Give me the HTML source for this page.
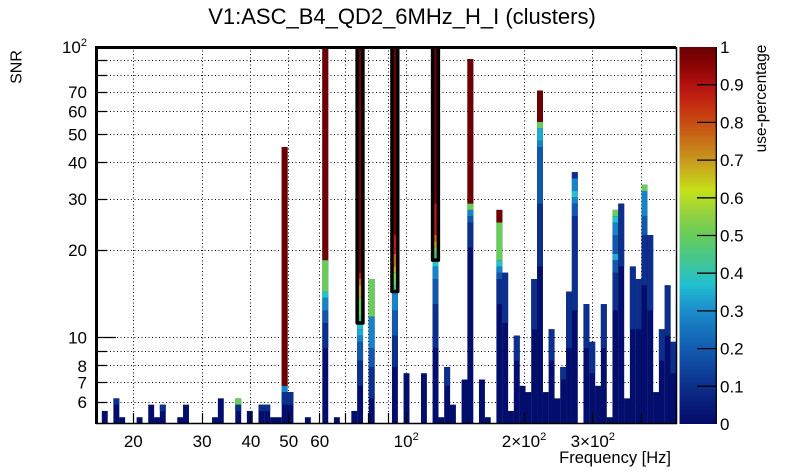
<!DOCTYPE html>
<html><head><meta charset="utf-8">
<style>
html,body{margin:0;padding:0;background:#fff;}
svg{display:block;}
text{font-family:"Liberation Sans",Arial,sans-serif;fill:#000;}
.a{fill:#020d6c}.b{fill:#0c2f8c}.c{fill:#1158ad}.d{fill:#1784c6}.e{fill:#20aacf}.f{fill:#28c2c4}
.g{fill:#3cc49a}.h{fill:#6acd5a}.i{fill:#a6d83a}.j{fill:#c8a020}.k{fill:#c8641a}.l{fill:#bc1a12}.m{fill:#6e0000}
</style></head>
<body>
<svg width="805" height="472" viewBox="0 0 805 472" xmlns="http://www.w3.org/2000/svg">
<defs>
<linearGradient id="pal" x1="0" y1="0" x2="0" y2="1">
<stop offset="0" stop-color="#6a0000"/>
<stop offset="0.05" stop-color="#8a0404"/>
<stop offset="0.1" stop-color="#b21010"/>
<stop offset="0.15" stop-color="#c42a10"/>
<stop offset="0.22" stop-color="#c85a14"/>
<stop offset="0.3" stop-color="#c8981e"/>
<stop offset="0.38" stop-color="#c6e018"/>
<stop offset="0.45" stop-color="#8ed044"/>
<stop offset="0.5" stop-color="#66cc5a"/>
<stop offset="0.58" stop-color="#3cc49c"/>
<stop offset="0.63" stop-color="#22c0d0"/>
<stop offset="0.7" stop-color="#1a8cca"/>
<stop offset="0.8" stop-color="#125cb0"/>
<stop offset="0.9" stop-color="#0c2f8a"/>
<stop offset="1" stop-color="#020a66"/>
</linearGradient>
</defs>

<!-- title -->
<text x="402" y="24" font-size="22" text-anchor="middle">V1:ASC_B4_QD2_6MHz_H_I (clusters)</text>

<!-- grid -->
<g stroke="#000" stroke-width="1" stroke-dasharray="1 2.5" fill="none" shape-rendering="crispEdges">
<path d="M96 60.5H676M96 75.5H676M96 92.5H676M96 111.5H676M96 134.5H676M96 162.5H676M96 199.5H676M96 250.5H676M96 337.5H676M96 351.5H676M96 365.5H676M96 382.5H676M96 402.5H676"/>
<path d="M133.5 47V423M202.5 47V423M250.5 47V423M288.5 47V423M319.5 47V423M345.5 47V423M368.5 47V423M388.5 47V423M406.5 47V423M524.5 47V423M592.5 47V423M641.5 47V423"/>
</g>

<!-- bars -->
<g transform="translate(96 423.5) scale(5.803 -6.283)">
<rect class="a" x="1" y="0" width="1.02" height="2"/>
<rect class="a" x="3" y="0" width="1.02" height="4"/><rect class="b" x="3" y="3" width="1.02" height="1"/>
<rect class="a" x="4" y="0" width="1.02" height="1"/>
<rect class="a" x="7" y="0" width="1.02" height="1"/>
<rect class="a" x="9" y="0" width="1.02" height="3"/>
<rect class="a" x="10" y="0" width="1.02" height="1"/>
<rect class="a" x="11" y="0" width="1.02" height="3"/><rect class="b" x="11" y="2" width="1.02" height="1"/>
<rect class="a" x="14" y="0" width="1.02" height="1"/>
<rect class="a" x="15" y="0" width="1.02" height="3"/>
<rect class="a" x="20" y="0" width="1.02" height="1"/>
<rect class="a" x="21" y="0" width="1.02" height="4"/>
<rect class="a" x="24" y="0" width="1.02" height="4"/><rect class="b" x="24" y="2" width="1.02" height="1"/><rect class="h" x="24" y="3" width="1.02" height="1"/>
<rect class="a" x="26" y="0" width="1.02" height="2"/>
<rect class="a" x="28" y="0" width="1.02" height="3"/><rect class="b" x="28" y="2" width="1.02" height="1"/>
<rect class="a" x="29" y="0" width="1.02" height="3"/><rect class="b" x="29" y="2" width="1.02" height="1"/>
<rect class="a" x="30" y="0" width="1.02" height="1"/>
<rect class="a" x="31" y="0" width="1.02" height="1"/>
<rect class="a" x="32" y="0" width="1.02" height="44"/><rect class="b" x="32" y="3" width="1.02" height="2"/><rect class="d" x="32" y="5" width="1.02" height="1"/><rect class="m" x="32" y="6" width="1.02" height="38"/>
<rect class="a" x="33" y="0" width="1.02" height="5"/><rect class="b" x="33" y="3" width="1.02" height="2"/>
<rect class="a" x="36" y="0" width="1.02" height="1"/>
<rect class="a" x="39" y="0" width="1.02" height="60"/><rect class="b" x="39" y="12" width="1.02" height="4"/><rect class="c" x="39" y="16" width="1.02" height="2"/><rect class="d" x="39" y="18" width="1.02" height="2"/><rect class="f" x="39" y="20" width="1.02" height="1"/><rect class="h" x="39" y="21" width="1.02" height="5"/><rect class="m" x="39" y="26" width="1.02" height="34"/>
<rect class="a" x="41" y="0" width="1.02" height="1"/>
<rect class="a" x="44" y="0" width="1.02" height="2"/>
<rect class="a" x="45" y="0" width="1.02" height="60"/><rect class="b" x="45" y="6" width="1.02" height="4"/><rect class="c" x="45" y="10" width="1.02" height="3"/><rect class="d" x="45" y="13" width="1.02" height="1"/><rect class="e" x="45" y="14" width="1.02" height="1"/><rect class="f" x="45" y="15" width="1.02" height="1"/><rect class="g" x="45" y="16" width="1.02" height="1"/><rect class="h" x="45" y="17" width="1.02" height="3"/><rect class="j" x="45" y="20" width="1.02" height="2"/><rect class="k" x="45" y="22" width="1.02" height="1"/><rect class="l" x="45" y="23" width="1.02" height="1"/><rect class="m" x="45" y="24" width="1.02" height="36"/>
<rect class="a" x="47" y="0" width="1.02" height="23"/><rect class="b" x="47" y="4" width="1.02" height="5"/><rect class="c" x="47" y="9" width="1.02" height="3"/><rect class="d" x="47" y="12" width="1.02" height="5"/><rect class="h" x="47" y="17" width="1.02" height="6"/>
<rect class="a" x="51" y="0" width="1.02" height="60"/><rect class="b" x="51" y="9" width="1.02" height="5"/><rect class="c" x="51" y="14" width="1.02" height="4"/><rect class="d" x="51" y="18" width="1.02" height="3"/><rect class="g" x="51" y="21" width="1.02" height="1"/><rect class="h" x="51" y="22" width="1.02" height="2"/><rect class="j" x="51" y="24" width="1.02" height="1"/><rect class="k" x="51" y="25" width="1.02" height="2"/><rect class="l" x="51" y="27" width="1.02" height="3"/><rect class="m" x="51" y="30" width="1.02" height="30"/>
<rect class="a" x="53" y="0" width="1.02" height="8"/>
<rect class="a" x="56" y="0" width="1.02" height="8"/>
<rect class="a" x="58" y="0" width="1.02" height="60"/><rect class="b" x="58" y="12" width="1.02" height="7"/><rect class="c" x="58" y="19" width="1.02" height="4"/><rect class="d" x="58" y="23" width="1.02" height="2"/><rect class="f" x="58" y="25" width="1.02" height="1"/><rect class="g" x="58" y="26" width="1.02" height="1"/><rect class="h" x="58" y="27" width="1.02" height="1"/><rect class="j" x="58" y="28" width="1.02" height="1"/><rect class="k" x="58" y="29" width="1.02" height="1"/><rect class="l" x="58" y="30" width="1.02" height="5"/><rect class="m" x="58" y="35" width="1.02" height="25"/>
<rect class="a" x="59" y="0" width="1.02" height="1"/>
<rect class="a" x="60" y="0" width="1.02" height="9"/><rect class="b" x="60" y="6" width="1.02" height="3"/>
<rect class="a" x="61" y="0" width="1.02" height="3"/>
<rect class="a" x="63" y="0" width="1.02" height="7"/>
<rect class="a" x="64" y="0" width="1.02" height="58"/><rect class="b" x="64" y="28" width="1.02" height="4"/><rect class="c" x="64" y="32" width="1.02" height="1"/><rect class="d" x="64" y="33" width="1.02" height="1"/><rect class="h" x="64" y="34" width="1.02" height="1"/><rect class="m" x="64" y="35" width="1.02" height="23"/>
<rect class="a" x="66" y="0" width="1.02" height="7"/>
<rect class="a" x="67" y="0" width="1.02" height="1"/>
<rect class="a" x="69" y="0" width="1.02" height="34"/><rect class="b" x="69" y="19" width="1.02" height="4"/><rect class="c" x="69" y="23" width="1.02" height="1"/><rect class="d" x="69" y="24" width="1.02" height="1"/><rect class="f" x="69" y="25" width="1.02" height="1"/><rect class="h" x="69" y="26" width="1.02" height="6"/><rect class="m" x="69" y="32" width="1.02" height="2"/>
<rect class="a" x="70" y="0" width="1.02" height="24"/><rect class="b" x="70" y="16" width="1.02" height="8"/>
<rect class="a" x="71" y="0" width="1.02" height="2"/>
<rect class="a" x="72" y="0" width="1.02" height="14"/><rect class="b" x="72" y="10" width="1.02" height="4"/>
<rect class="a" x="73" y="0" width="1.02" height="6"/>
<rect class="a" x="74" y="0" width="1.02" height="5"/>
<rect class="a" x="75" y="0" width="1.02" height="23"/><rect class="b" x="75" y="15" width="1.02" height="8"/>
<rect class="a" x="76" y="0" width="1.02" height="53"/><rect class="b" x="76" y="25" width="1.02" height="10"/><rect class="c" x="76" y="35" width="1.02" height="9"/><rect class="d" x="76" y="44" width="1.02" height="1"/><rect class="e" x="76" y="45" width="1.02" height="2"/><rect class="h" x="76" y="47" width="1.02" height="1"/><rect class="m" x="76" y="48" width="1.02" height="5"/>
<rect class="a" x="77" y="0" width="1.02" height="5"/>
<rect class="a" x="78" y="0" width="1.02" height="15"/><rect class="b" x="78" y="10" width="1.02" height="5"/>
<rect class="a" x="79" y="0" width="1.02" height="4"/>
<rect class="a" x="80" y="0" width="1.02" height="9"/><rect class="b" x="80" y="7" width="1.02" height="2"/>
<rect class="a" x="81" y="0" width="1.02" height="21"/><rect class="b" x="81" y="12" width="1.02" height="9"/>
<rect class="a" x="82" y="0" width="1.02" height="40"/><rect class="b" x="82" y="18" width="1.02" height="15"/><rect class="c" x="82" y="33" width="1.02" height="2"/><rect class="d" x="82" y="35" width="1.02" height="1"/><rect class="f" x="82" y="36" width="1.02" height="1"/><rect class="d" x="82" y="37" width="1.02" height="2"/><rect class="b" x="82" y="39" width="1.02" height="1"/>
<rect class="a" x="84" y="0" width="1.02" height="19"/><rect class="b" x="84" y="12" width="1.02" height="7"/>
<rect class="a" x="85" y="0" width="1.02" height="13"/><rect class="b" x="85" y="8" width="1.02" height="5"/>
<rect class="a" x="86" y="0" width="1.02" height="6"/>
<rect class="a" x="87" y="0" width="1.02" height="19"/><rect class="b" x="87" y="12" width="1.02" height="7"/>
<rect class="a" x="88" y="0" width="1.02" height="1"/>
<rect class="a" x="89" y="0" width="1.02" height="34"/><rect class="b" x="89" y="18" width="1.02" height="6"/><rect class="c" x="89" y="24" width="1.02" height="2"/><rect class="e" x="89" y="26" width="1.02" height="1"/><rect class="c" x="89" y="27" width="1.02" height="3"/><rect class="d" x="89" y="30" width="1.02" height="2"/><rect class="f" x="89" y="32" width="1.02" height="1"/><rect class="h" x="89" y="33" width="1.02" height="1"/>
<rect class="a" x="90" y="0" width="1.02" height="35"/><rect class="b" x="90" y="25" width="1.02" height="10"/>
<rect class="a" x="91" y="0" width="1.02" height="4"/>
<rect class="a" x="92" y="0" width="1.02" height="25"/><rect class="b" x="92" y="15" width="1.02" height="10"/>
<rect class="a" x="93" y="0" width="1.02" height="23"/><rect class="b" x="93" y="15" width="1.02" height="8"/>
<rect class="a" x="94" y="0" width="1.02" height="38"/><rect class="b" x="94" y="22" width="1.02" height="8"/><rect class="c" x="94" y="30" width="1.02" height="3"/><rect class="d" x="94" y="33" width="1.02" height="4"/><rect class="h" x="94" y="37" width="1.02" height="1"/>
<rect class="a" x="95" y="0" width="1.02" height="30"/><rect class="b" x="95" y="18" width="1.02" height="12"/>
<rect class="a" x="96" y="0" width="1.02" height="5"/>
<rect class="a" x="97" y="0" width="1.02" height="15"/><rect class="b" x="97" y="10" width="1.02" height="5"/>
<rect class="a" x="98" y="0" width="1.02" height="22"/><rect class="b" x="98" y="14" width="1.02" height="8"/>
<rect class="a" x="99" y="0" width="1.02" height="13"/><rect class="b" x="99" y="8" width="1.02" height="5"/>
</g>

<!-- highlight boxes -->
<g stroke="#000" stroke-width="3.5" fill="none" stroke-linejoin="round">
<path d="M357.14 47V322.97H362.94V47"/>
<path d="M391.95 47V291.56H397.75V47"/>
<path d="M432.57 47V260.14H438.38V47"/>
</g>

<!-- frame -->
<g stroke="#000" fill="none">
<path d="M96.5 47.5H676" stroke-width="3"/>
<path d="M96.5 46V424" stroke-width="3"/>
<path d="M96 423.5H677" stroke-width="1.6"/>
<path d="M676.5 47V424" stroke-width="1.5"/>
<!-- y ticks -->
<path stroke-width="1.2" d="M97 60.5H107M97 75.5H107M97 92.5H107M97 111.5H107M97 134.5H107M97 162.5H107M97 199.5H107M97 250.5H107M97 337.5H116M97 351.5H107M97 365.5H107M97 382.5H107M97 402.5H107"/>
<!-- x ticks -->
<path stroke-width="1.2" d="M133.5 423V413M202.5 423V413M250.5 423V413M288.5 423V413M319.5 423V413M345.5 423V413M368.5 423V413M388.5 423V413M406.5 423V412M524.5 423V413M592.5 423V413M641.5 423V413"/>
</g>

<!-- y labels -->
<g font-size="17" text-anchor="end">
<text x="87" y="53">10<tspan dy="-7" font-size="11">2</tspan></text>
<text x="87" y="98.1">70</text>
<text x="87" y="117.5">60</text>
<text x="87" y="140.5">50</text>
<text x="87" y="168.7">40</text>
<text x="87" y="205">30</text>
<text x="87" y="256.2">20</text>
<text x="87" y="343.7">10</text>
<text x="87" y="371.9">8</text>
<text x="87" y="388.7">7</text>
<text x="87" y="408.2">6</text>
</g>

<!-- x labels -->
<g font-size="17" text-anchor="middle">
<text x="133.3" y="447">20</text>
<text x="202.1" y="447">30</text>
<text x="250.9" y="447">40</text>
<text x="288.7" y="447">50</text>
<text x="319.7" y="447">60</text>
<text x="406.2" y="447">10<tspan dy="-7" font-size="11">2</tspan></text>
<text x="524" y="447">2×10<tspan dy="-7" font-size="11">2</tspan></text>
<text x="592.8" y="447">3×10<tspan dy="-7" font-size="11">2</tspan></text>
</g>

<text x="671" y="463" font-size="16.5" text-anchor="end">Frequency [Hz]</text>
<text transform="translate(21.5 67) rotate(-90)" font-size="16" text-anchor="middle">SNR</text>

<!-- colorbar -->
<rect x="679.5" y="47" width="36.5" height="377" fill="url(#pal)"/>
<g stroke="#000" stroke-width="1.3" fill="none">
<path d="M716.3 47V424"/>
<path d="M697 84.7H716M697 122.4H716M697 160.1H716M697 197.8H716M697 235.5H716M697 273.2H716M697 310.9H716M697 348.6H716M697 386.3H716"/>
</g>
<g font-size="17">
<text x="720" y="53">1</text>
<text x="720" y="90.7">0.9</text>
<text x="720" y="128.4">0.8</text>
<text x="720" y="166.1">0.7</text>
<text x="720" y="203.8">0.6</text>
<text x="720" y="241.5">0.5</text>
<text x="720" y="279.2">0.4</text>
<text x="720" y="316.9">0.3</text>
<text x="720" y="354.6">0.2</text>
<text x="720" y="392.3">0.1</text>
<text x="720" y="430">0</text>
</g>
<text transform="translate(766 98.5) rotate(-90)" font-size="15.5" text-anchor="middle">use-percentage</text>
</svg>
</body></html>
